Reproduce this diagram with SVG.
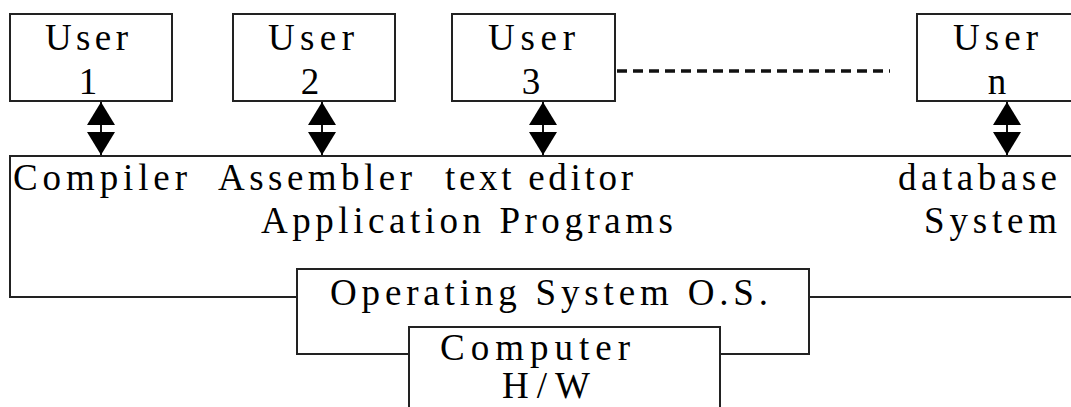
<svg xmlns="http://www.w3.org/2000/svg" width="1071" height="407" viewBox="0 0 1071 407">
  <style>
    .box { fill: #fff; stroke: #222; stroke-width: 2; }
    .t { font-family: "Liberation Serif", "Times New Roman", serif; font-size: 37px; fill: #000; }
    .m { text-anchor: middle; }
    .conn { stroke: #111; stroke-width: 2; fill: none; }
    .dash { stroke: #111; stroke-width: 3.5; stroke-dasharray: 10 6; fill: none; }
  </style>
  <defs>
    <marker id="ah" viewBox="0 0 23 28" refX="23" refY="14" markerWidth="23" markerHeight="28" markerUnits="userSpaceOnUse" orient="auto-start-reverse">
      <path d="M0,0 L23,14 L0,28 z" fill="#000"/>
    </marker>
  </defs>

  <g id="app-programs">
    <rect class="box" x="10" y="156" width="1080" height="141"/>
    <text class="t" x="13" y="190" textLength="174" lengthAdjust="spacing">Compiler</text>
    <text class="t" x="218" y="190" textLength="194" lengthAdjust="spacing">Assembler</text>
    <text class="t" x="445" y="190" textLength="188" lengthAdjust="spacing">text editor</text>
    <text class="t" x="898" y="190" textLength="159" lengthAdjust="spacing">database</text>
    <text class="t" x="261" y="233" textLength="412" lengthAdjust="spacing">Application Programs</text>
    <text class="t" x="924" y="233" textLength="133" lengthAdjust="spacing">System</text>
  </g>

  <g id="os">
    <rect class="box" x="297" y="269" width="512" height="85"/>
    <text class="t" x="330" y="305" textLength="438" lengthAdjust="spacing">Operating System O.S.</text>
  </g>

  <g id="hw">
    <rect class="box" x="409" y="327" width="311" height="100"/>
    <text class="t" x="440" y="360" textLength="190" lengthAdjust="spacing">Computer</text>
    <text class="t" x="502" y="398" textLength="88" lengthAdjust="spacing">H/W</text>
  </g>

  <g id="user1">
    <rect class="box" x="10" y="14" width="162" height="87"/>
    <text class="t" x="45" y="50" textLength="83" lengthAdjust="spacing">User</text>
    <text class="t m" x="88" y="94">1</text>
  </g>
  <g id="user2">
    <rect class="box" x="233" y="14" width="162" height="87"/>
    <text class="t" x="268" y="50" textLength="86" lengthAdjust="spacing">User</text>
    <text class="t m" x="310" y="94">2</text>
  </g>
  <g id="user3">
    <rect class="box" x="452" y="14" width="163" height="87"/>
    <text class="t" x="488" y="50" textLength="87" lengthAdjust="spacing">User</text>
    <text class="t m" x="531" y="94">3</text>
  </g>
  <g id="usern">
    <rect class="box" x="917" y="14" width="170" height="87"/>
    <text class="t" x="953" y="50" textLength="85" lengthAdjust="spacing">User</text>
    <text class="t m" x="997" y="94">n</text>
  </g>

  <g id="connectors">
    <line class="conn" x1="101" y1="102" x2="101" y2="155" marker-start="url(#ah)" marker-end="url(#ah)"/>
    <line class="conn" x1="322" y1="102" x2="322" y2="155" marker-start="url(#ah)" marker-end="url(#ah)"/>
    <line class="conn" x1="543" y1="102" x2="543" y2="155" marker-start="url(#ah)" marker-end="url(#ah)"/>
    <line class="conn" x1="1007" y1="102" x2="1007" y2="155" marker-start="url(#ah)" marker-end="url(#ah)"/>
    <line class="dash" x1="617" y1="71" x2="890" y2="71"/>
  </g>
</svg>
